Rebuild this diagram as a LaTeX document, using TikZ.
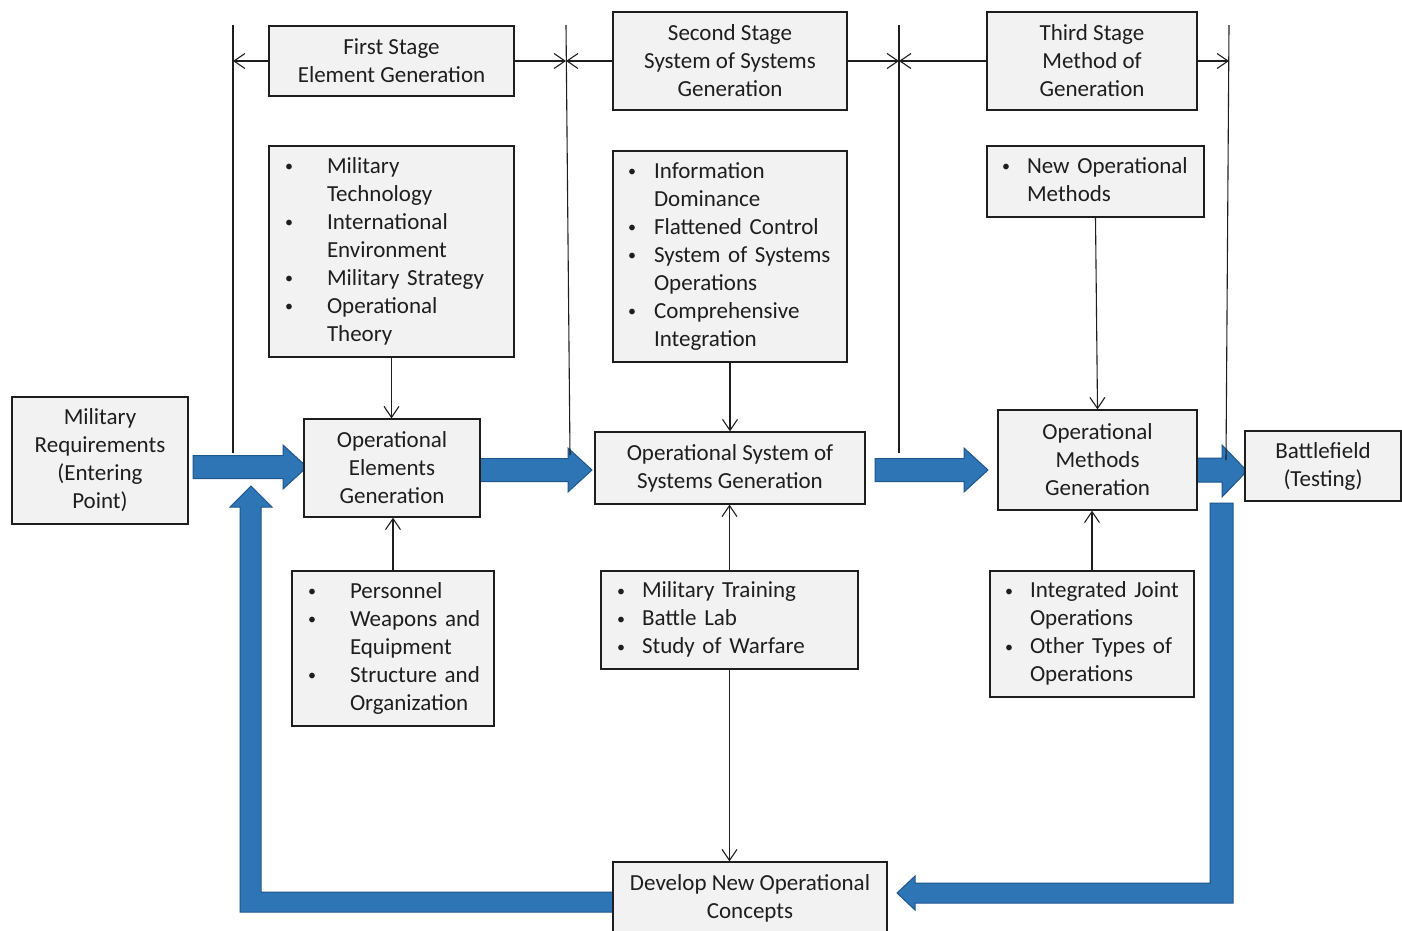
\documentclass[tikz,border=0pt]{standalone}
\usepackage{fontspec}
\setmainfont{Carlito}
\usetikzlibrary{arrows.meta,calc}
\definecolor{bfill}{RGB}{46,117,182}
\definecolor{bdraw}{RGB}{31,86,140}
\definecolor{boxfill}{RGB}{242,242,242}
\definecolor{ink}{RGB}{30,30,30}
\newcommand\bl{\raisebox{1.5pt}{\fontsize{16}{16}\selectfont\textbullet}}
\newcommand\blist[2]{\begin{tabular}{@{}p{#1pt}@{}l@{}}#2\end{tabular}}
\newcommand\rarrow[3]{\draw[bluearr] (#1,{#3-11.5}) -- ({#2-24},{#3-11.5}) -- ({#2-24},{#3-22}) -- (#2,#3) -- ({#2-24},{#3+22}) -- ({#2-24},{#3+11.5}) -- (#1,{#3+11.5}) -- cycle;}
\begin{document}
\begin{tikzpicture}[x=1pt,y=-1pt,font=\fontsize{23}{28}\selectfont,text=ink,
  box/.style={draw=ink,line width=1.3pt,fill=boxfill,inner sep=0pt,align=center},
  lbox/.style={draw=ink,line width=1.3pt,fill=boxfill,inner ysep=0pt,align=left},
  conn/.style={draw=ink,line width=1.1pt,-{Straight Barb[length=11pt,width=15pt]}},
  vline/.style={draw=ink,line width=1.1pt},
  bluearr/.style={fill=bfill,draw=bdraw,line width=1pt,line join=miter}]
\useasboundingbox (0,0) rectangle (1402,930);

% blue block arrows
\rarrow{193}{307}{467}
\rarrow{480}{592}{470}
\rarrow{875}{988}{470}
\draw[bluearr] (1197,458) -- (1222,458) -- (1222,445) -- (1247,471) -- (1222,497) -- (1222,482) -- (1197,482) -- cycle;
\draw[bluearr] (1210,503) -- (1233,503) -- (1233,903) -- (915,903) -- (915,910) -- (897,893) -- (915,876) -- (915,883) -- (1210,883) -- cycle;
\draw[bluearr] (620,892) -- (261,892) -- (261,507) -- (272,507) -- (251,486) -- (230,507) -- (240,507) -- (240,912) -- (620,912) -- cycle;

% main nodes
\node[box,minimum width=176pt,minimum height=127pt] (mr) at (100,460.5) {Military\\Requirements\\(Entering\\Point)};
\node[box,minimum width=176pt,minimum height=98pt] (oeg) at (392,468) {Operational\\Elements\\Generation};
\node[box,minimum width=270pt,minimum height=72pt] (ossg) at (730,468) {Operational System of\\Systems Generation};
\node[box,minimum width=199pt,minimum height=100pt] (omg) at (1097.5,460) {Operational\\Methods\\Generation};
\node[box,minimum width=156pt,minimum height=70pt] (bf) at (1323,466) {Battlefield\\(Testing)};
\node[box,minimum width=274pt,minimum height=73pt] (dev) at (750,898.5) {Develop New Operational\\Concepts};

% stage nodes
\node[box,minimum width=245pt,minimum height=70pt] (s1) at (391.5,61) {First Stage\\Element Generation};
\node[box,minimum width=234pt,minimum height=98pt] (s2) at (730,61) {Second Stage\\System of Systems\\Generation};
\node[box,minimum width=210pt,minimum height=98pt] (s3) at (1092,61) {Third Stage\\Method of\\Generation};

% list nodes
\node[lbox,inner xsep=16pt,text width=213pt,minimum height=211pt] (b1) at (391.5,251.5)
  {\blist{42}{\bl & Military\\ & Technology\\ \bl & International\\ & Environment\\ \bl & Military Strategy\\ \bl & Operational\\ & Theory}};
\node[lbox,inner xsep=15pt,text width=204pt,minimum height=211pt] (b2) at (730,256.5)
  {\blist{26}{\bl & Information\\ & Dominance\\ \bl & Flattened Control\\ \bl & System of Systems\\ & Operations\\ \bl & Comprehensive\\ & Integration}};
\node[lbox,inner xsep=15pt,text width=187pt,minimum height=71pt] (b3) at (1095.5,181.5)
  {\blist{25}{\bl & New Operational\\ & Methods}};
\node[lbox,inner xsep=16pt,text width=170pt,minimum height=155pt] (p1) at (393,648.5)
  {\blist{42}{\bl & Personnel\\ \bl & Weapons and\\ & Equipment\\ \bl & Structure and\\ & Organization}};
\node[lbox,inner xsep=16pt,text width=225pt,minimum height=98pt] (p2) at (729.5,620)
  {\blist{25}{\bl & Military Training\\ \bl & Battle Lab\\ \bl & Study of Warfare}};
\node[lbox,inner xsep=15pt,text width=174pt,minimum height=126pt] (p3) at (1092,634)
  {\blist{25}{\bl & Integrated Joint\\ & Operations\\ \bl & Other Types of\\ & Operations}};

% stage boundary lines
\coordinate (v1t) at (233,25); \coordinate (v1b) at (233,453);
\coordinate (v2t) at (566,25); \coordinate (v2b) at (570,455);
\coordinate (v3t) at (899,25); \coordinate (v3b) at (899,453);
\coordinate (v4t) at (1229,25); \coordinate (v4b) at (1226,460);
\draw[vline] (v1t) -- (v1b);
\draw[vline] (v2t) -- (v2b);
\draw[vline] (v3t) -- (v3b);
\draw[vline] (v4t) -- (v4b);

% stage arrows
\draw[conn] (s1.west) -- (s1.west -| v1t);
\draw[conn] (s1.east) -- (s1.east -| v2t);
\draw[conn] (s2.west) -- (s2.west -| v2t);
\draw[conn] (s2.east) -- (s2.east -| v3t);
\draw[conn] (s3.west) -- (s3.west -| v3t);
\draw[conn] (s3.east) -- (s3.east -| v4t);

% thin connectors
\draw[conn] (b1.south) -- (b1.south |- oeg.north);
\draw[conn] (p1.north) -- (p1.north |- oeg.south);
\draw[conn] (b2.south) -- (b2.south |- ossg.north);
\draw[conn] (p2.north) -- (p2.north |- ossg.south);
\draw[conn] (p2.south) -- (p2.south |- dev.north);
\draw[conn] (b3.south) -- (omg.north);
\draw[conn] (p3.north) -- (p3.north |- omg.south);
\end{tikzpicture}
\end{document}
